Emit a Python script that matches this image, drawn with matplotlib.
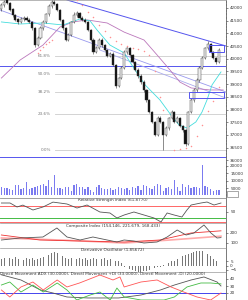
import matplotlib
matplotlib.use("Agg")
import matplotlib.pyplot as plt
from matplotlib.ticker import FixedLocator, MultipleLocator
from matplotlib.patches import Rectangle

# ---------------- data ----------------
opens = [41950,42100,42300,42200,41950,41720,41550,41450,41560,41620,41540,41450,41200,40560,40820,41200,41450,41760,42080,42250,
         42160,41920,41530,41200,40740,40940,41450,41720,41800,41610,41530,41450,41130,40740,40270,40420,40740,40540,40350,40110,
         40190,39750,38930,39240,39640,40270,40420,40150,39870,39560,39320,39080,38770,38380,37900,37510,37000,37670,37510,37000,
         37270,37670,37900,37510,37670,37350,37190,36640,37900,38380,38770,39160,39640,40030,40420,40580,40270,40030,39870]
closes = [42120,42240,42200,41920,41720,41530,41450,41570,41610,41530,41450,41210,40540,40820,41210,41450,41760,42080,42240,42160,
          41920,41530,41210,40740,40940,41450,41720,41800,41610,41530,41450,41130,40740,40270,40420,40740,40540,40350,40110,40190,
          39750,38930,39240,39640,40270,40420,40150,39870,39560,39320,39080,38770,38380,37900,37510,37000,37670,37510,37000,37270,
          37670,37900,37510,37670,37350,37190,36640,37900,38380,38770,39160,39640,40030,40420,40580,40270,40030,39870,40350]
highs = [42200,42300,42330,42250,42000,41780,41600,41640,41700,41680,41600,41500,41250,40900,41280,41520,41820,42150,42320,42300,
         42200,41960,41580,41250,41000,41500,41850,41900,41850,41680,41600,41500,41180,40800,40500,40800,40800,40600,40400,40260,
         40250,39800,39300,39700,40350,40480,40470,40200,39920,39620,39380,39150,38820,38420,37950,37560,37750,37750,37560,37350,
         37720,37980,37950,37750,37720,37400,37250,37950,38450,38850,39250,39700,40100,40480,40680,40620,40320,40080,40420]
lows = [41900,42050,42150,41880,41650,41480,41380,41400,41500,41470,41400,41150,40480,40500,40780,41150,41400,41700,42000,42100,
        41880,41480,41150,40680,40700,40900,41400,41650,41550,41480,41400,41080,40680,40200,40220,40380,40480,40300,40050,40050,
        39700,38850,38880,39200,39600,40200,40100,39820,39500,39250,39020,38700,38300,37850,37450,36950,36950,37450,36400,36950,
        37200,37620,37450,37450,37300,37100,36580,36600,37850,38300,38700,39100,39600,39980,40350,40220,39980,39800,39820]
volumes = [5800,5000,4800,4200,3800,7000,7000,4200,5000,9000,4600,5000,5800,6500,7000,8000,6200,10500,5800,14000,
           5000,5000,4500,6000,6000,3000,7000,8000,5500,6000,4600,5800,4000,2500,6000,6800,5000,4600,4600,5000,
           4000,4600,5500,5000,4600,5200,4000,5500,5000,6100,4000,6800,6100,5000,4600,6100,7500,6800,3300,5000,
           5800,4600,10500,5500,2800,7700,5500,6800,5000,6000,5500,4800,20500,6100,5500,4600,2800,4000,3500]

ma_fast_idx = [0,6.7,14.9,22.1,28.2,31.8,34.3,38.9,44,47.2,51.5,56.8,60.8,63.7,66.5,69.7,71.9,73.7,75.5,78.7]
ma_fast_val = [41450,41370,41410,41330,41570,41490,41130,40540,40230,39675,38970,38380,37780,37390,37270,37510,37900,38380,38970,39480]
ma_slow_idx = [0,6.7,14.9,21,25.7,30.7,37.9,44,51.1,55.8,60.4,64,68,74.8,79.5]
ma_slow_val = [39240,39950,40540,41250,41450,41530,41410,41050,40740,40150,39560,39080,38850,38770,38770]

sar_idx = [13,14,15,16,17,18, 27,29,31,33,35,37,39,41,43,45,47,49,51,53,55,57,58, 62,64,66,68,70,72,74,76,78]
sar_val = [40230,40350,40460,40580,40660,40740,
           42300,42100,41850,41650,41330,41100,40850,40700,40580,40500,40440,40380,40320,40150,39500,38500,38000,
           36400,36430,36480,36550,36950,37400,37950,38350,38900]

fib_labels = ["0.0%", "23.6%", "38.2%", "50.0%", "61.8%"]
fib_prices = [36400, 37819, 38697, 39407, 40117]

trend_top = ([23.5, 80.5], [42315, 40503])
trend_mid = ([-0.5, 80.5], [41920, 38690])
trend_low = ([35.3, 80.5], [40345, 38450])
hlines_blue = [39715, 36130]

price_ticks = [36000,36500,37000,37500,38000,38500,39000,39500,40000,40500,41000,41500,42000]
vol_ticks = [5000,10000,15000,20000]

rsi_idx = [0,3.1,5.6,7.7,11.3,14.9,18.5,23.5,27.1,30.7,35.3,38.9,41.4,44,47.5,51.1,54.7,57.2,59.4,61.9,64.7,66.5,68,71.5,73.7,76.2,78.7]
rsi_val = [80,80,66.7,73,56.7,66.7,83,76.7,63.3,73.3,50,46.7,30,40,50,40,30,16.7,46.7,40,33.3,56.7,73.3,80,83.3,73.3,80]

ci_idx = [0,6.7,14.9,19.9,23.5,28.2,32.8,37.9,41.4,44,47.5,51.1,55.8,59.4,63,66.2,69,72.6,75.1,77.3,78.7]
ci_val = [130,150,160,250,160,130,160,130,110,130,120,100,110,160,230,180,200,280,200,150,154]
ci_fast_idx = [0,13.8,28.2,44,56.8,68,78.7]
ci_fast_val = [180,130,120,110,130,200,221.7]
ci_slow_idx = [0,21,44,60.5,78.7]
ci_slow_val = [150,130,100,130,168.4]

deriv = [8,9,7,9,8,10,8,9,7,9,8,9,7,8,9,10,11,
         13,15,16,15,13,11,
         9,8,9,7,8,9,8,9,7,8,9,8,7,8,9,7,8,7,6,5,3,
         -2,-3,-4,-5,-6,-7,-7,-6,-6,-5,-4,-3,-2,-1,1,
         2,3,5,6,8,9,11,12,14,15,16,17,17.5,17,16,14,11,8,5,1.9]

adx_idx = [0,7,14,18.5,23.5,31,42,50,57,62,68,72.6,77.3,78.7]
adx_val = [46,38.6,24.3,20,14.3,12.9,12.9,17.1,24.3,31.4,38.6,42.9,35.7,30]
pdi_idx = [0,3,7,11.3,15,20,23.5,27,31.8,35.3,39,41.4,44,50,58.3,62,66.5,71.5,75,78.7]
pdi_val = [31.4,35.7,21.4,31.4,21.4,34.3,24.3,10,17.1,21.4,10,27.1,14.3,10,10,14.3,28.6,34.3,34.3,33]
mdi_idx = [0,3,7,11.3,15,20,23.5,28,35.3,40,42.5,44,50,55.8,60.8,65.4,70.1,75,78.7]
mdi_val = [24.3,14.3,28.6,35.7,24.3,38.6,28.6,34.3,45.7,38.6,42.9,28.6,35.7,38.6,28.6,21.4,14.3,10,20]

# ---------------- layout ----------------
W, H = 248.0, 300.0
PW = 226.0
fig = plt.figure(figsize=(2.48, 3.0), dpi=100)
FS = 3.0
TC = "#333333"


def style_y(ax):
    ax.yaxis.tick_right()
    ax.yaxis.set_label_position("right")
    ax.tick_params(axis="y", which="major", labelsize=FS, colors=TC, length=1.5, width=0.4, pad=1.5,
                   left=False, labelleft=False, right=True, labelright=True)
    ax.tick_params(axis="y", which="minor", length=0.8, width=0.3, colors=TC,
                   left=False, right=True)


def add_ax(top, bottom):
    ax = fig.add_axes([0, 1 - bottom / H, PW / W, (bottom - top) / H])
    ax.set_xlim(-0.5, 80.5)
    ax.set_xticks([])
    style_y(ax)
    for s in ax.spines.values():
        s.set_linewidth(0.5)
        s.set_color("#999999")
    ax.spines["right"].set_color("#444444")
    ax.spines["left"].set_visible(False)
    return ax


x = list(range(len(closes)))

# price panel
ax = add_ax(0, 198)
axv = ax.twinx()
style_y(ax)
axv.set_xlim(-0.5, 80.5)
ax.set_zorder(axv.get_zorder() + 1)
ax.patch.set_visible(False)
axv.bar(x, volumes, width=0.45, color="#7b7bf0", linewidth=0)
axv.set_ylim(-1700, 132000)
axv.yaxis.set_major_locator(FixedLocator(vol_ticks))
style_y(axv)
for s in axv.spines.values():
    s.set_visible(False)

ax.set_ylim(34514, 42315)
ax.yaxis.set_major_locator(FixedLocator(price_ticks))
ax.yaxis.set_minor_locator(MultipleLocator(125))

for lab, p in zip(fib_labels, fib_prices):
    ax.plot([19.2, 80.5], [p, p], color="#cccccc", lw=0.6, zorder=1)
    ax.text(17.8, p, lab, fontsize=FS, color="#777777", ha="right", va="center")

for p in hlines_blue:
    ax.axhline(p, color="#5555ee", lw=0.7, zorder=2)
ax.plot(*trend_top, color="#5555ee", lw=0.7, zorder=2)
ax.plot(*trend_mid, color="#9999ee", lw=0.6, zorder=2)
ax.plot(*trend_low, color="#aaaaee", lw=0.6, zorder=2)

ax.plot(ma_slow_idx, ma_slow_val, color="#bb77bb", lw=0.6, zorder=3)
ax.plot(ma_fast_idx, ma_fast_val, color="#44dddd", lw=0.6, zorder=3)
ax.scatter(sar_idx, sar_val, s=1.2, color="#ff9090", linewidths=0, zorder=3)

for i in x:
    o, c = opens[i], closes[i]
    up = c >= o
    ax.vlines(i, lows[i], highs[i], color="#333333", lw=0.4, zorder=4)
    ax.bar(i, max(abs(c - o), 15), bottom=min(o, c), width=0.75,
           color="#eeeeee" if up else "#111111", edgecolor="#333333", linewidth=0.3, zorder=5)

ax.add_patch(Rectangle((74.4, 40270), 5.4, 270, fill=False, edgecolor="#5555ee", lw=0.7, zorder=6))
ax.add_patch(Rectangle((67.2, 38450), 12.6, 240, fill=False, edgecolor="#5555ee", lw=0.7, zorder=6))

# small box around the last-volume label on the right axis
fig.patches.append(Rectangle((226.5 / W, 1 - 196.5 / H), 11 / W, 6 / H, transform=fig.transFigure,
                             fill=False, edgecolor="#666666", lw=0.4))

# RSI
a1 = add_ax(198, 223)
a1.set_ylim(13.3, 96.7)
a1.yaxis.set_major_locator(FixedLocator([50]))
a1.axhline(70, color="#ff6666", lw=0.7)
a1.axhline(30, color="#44bb44", lw=0.7)
a1.axhline(17, color="#ff6666", lw=0.7)
a1.plot(rsi_idx, rsi_val, color="#555555", lw=0.6)
a1.text(40, 96, "Relative Strength Index (61.8770)", fontsize=FS, color=TC, ha="center", va="top")

# Composite index
a2 = add_ax(223, 248)
a2.set_ylim(50, 300)
a2.yaxis.set_major_locator(FixedLocator([100, 200]))
a2.plot(ci_slow_idx, ci_slow_val, color="#ffaaaa", lw=1.2)
a2.plot(ci_fast_idx, ci_fast_val, color="#ee3333", lw=0.6)
a2.plot(ci_idx, ci_val, color="#555555", lw=0.6)
a2.text(40, 290, "Composite Index (154.146, 221.679, 168.433)", fontsize=FS, color=TC, ha="center", va="top")

# Derivative oscillator
a3 = add_ax(248, 272)
a3.set_ylim(-7.4, 20.8)
a3.yaxis.set_major_locator(FixedLocator([-5, 0, 5]))
a3.bar(x, deriv, width=0.3, color="#777777", linewidth=0)
a3.text(40, 20.3, "Derivative Oscillator (1.85672)", fontsize=FS, color=TC, ha="center", va="top")

# DMI
a4 = add_ax(272, 300)
a4.set_ylim(10, 50)
a4.yaxis.set_major_locator(FixedLocator([20, 30, 40]))
a4.axhline(20, color="#4444ee", lw=0.7)
a4.plot(adx_idx, adx_val, color="#555555", lw=0.6)
a4.plot(pdi_idx, pdi_val, color="#44bb44", lw=0.6)
a4.plot(mdi_idx, mdi_val, color="#ff5555", lw=0.6)
a4.text(-0.5, 49.5, "Directl Movement ADX (30.0000), Directl Movement +DI (33.0000), Directl Movement -DI (20.0000)",
        fontsize=FS, color=TC, ha="left", va="top")

fig.savefig("out.png", dpi=100)
